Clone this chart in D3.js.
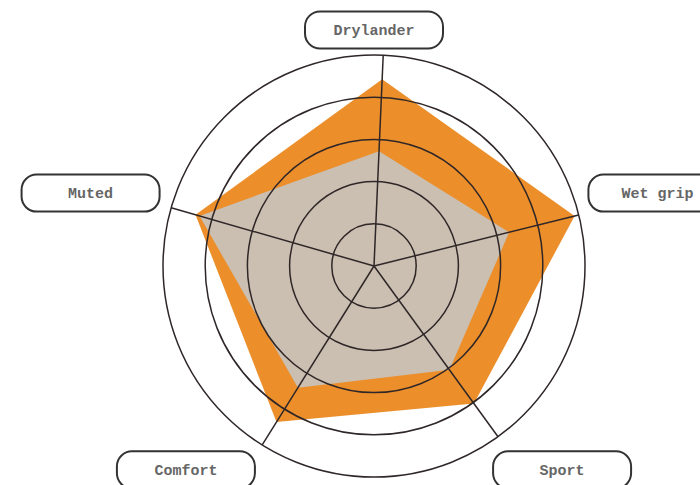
<!DOCTYPE html>
<html>
<head>
<meta charset="utf-8">
<script src="https://cdn.jsdelivr.net/npm/d3@7"></script>
<style>
  html, body { margin: 0; padding: 0; background: #fff; }
  svg { display: block; }
</style>
</head>
<body>
<div class="d3-graph radar"></div>
<script>
(function () {
    "use strict";

    // axis names, clockwise from the top
    var categories = ['Drylander', 'Wet grip', 'Sport', 'Comfort', 'Muted'];
    // axis directions in degrees, clockwise from straight up
    var axisAngles = [2.5, 76, 144, 212, 286];
    var outerValues = [4.43, 4.9, 4.03, 4.36, 4.4];
    var innerValues = [2.72, 3.3, 3.04, 3.4, 4.3];
    var ringTicks = [1, 2, 3, 4, 5];

    var config = {
        width: 700,
        height: 485,
        cx: 374,
        cy: 266,
        radius: 211,
        // label boxes sit on an ellipse, a bit further out below the centre
        labelUpper: { rx: 298, ry: 236 },
        labelLower: { rx: 320, ry: 252 },
        boxW: 138,
        boxH: 37
    };

    function drawRadar() {
        var svg = d3.select('.radar').html('').append('svg')
            .attr('width', config.width)
            .attr('height', config.height);

        var g = svg.append('g')
            .attr('transform', 'translate(' + config.cx + ',' + config.cy + ')');

        var r = d3.scaleLinear().domain([0, 5]).range([0, config.radius]);
        var angle = d3.scaleOrdinal()
            .domain(categories)
            .range(axisAngles.map(function (a) { return a * Math.PI / 180; }));
        var labelAngle = d3.scalePoint()
            .domain(categories)
            .range([0, 2 * Math.PI * (categories.length - 1) / categories.length]);

        var line = d3.lineRadial()
            .angle(function (d) { return angle(d.cat); })
            .radius(function (d) { return r(d.value); })
            .curve(d3.curveLinearClosed);

        function series(values) {
            return categories.map(function (c, i) {
                return { cat: c, value: values[i] };
            });
        }

        g.append('path')
            .datum(series(outerValues))
            .attr('d', line)
            .attr('fill', '#ec8f2b');

        g.append('path')
            .datum(series(innerValues))
            .attr('d', line)
            .attr('fill', '#cbbfb2');

        g.selectAll('circle.ring')
            .data(ringTicks)
            .enter()
            .append('circle')
            .attr('class', 'ring')
            .attr('r', function (d) { return r(d); })
            .attr('fill', 'none')
            .attr('stroke', '#2f2727')
            .attr('stroke-width', 1.5);

        g.selectAll('line.axis')
            .data(categories)
            .enter()
            .append('line')
            .attr('class', 'axis')
            .attr('x1', 0)
            .attr('y1', 0)
            .attr('x2', function (d) { return r(5) * Math.sin(angle(d)); })
            .attr('y2', function (d) { return -r(5) * Math.cos(angle(d)); })
            .attr('stroke', '#2f2727')
            .attr('stroke-width', 1.5);

        var labels = g.selectAll('g.label')
            .data(categories)
            .enter()
            .append('g')
            .attr('class', 'label')
            .attr('transform', function (d) {
                var a = labelAngle(d);
                var s = Math.sin(a), c = Math.cos(a);
                var e = c >= 0 ? config.labelUpper : config.labelLower;
                return 'translate(' + (e.rx * s) + ',' + (-e.ry * c) + ')';
            });

        labels.append('rect')
            .attr('x', -config.boxW / 2)
            .attr('y', -config.boxH / 2)
            .attr('width', config.boxW)
            .attr('height', config.boxH)
            .attr('rx', 15)
            .attr('ry', 15)
            .attr('fill', '#fff')
            .attr('stroke', '#333')
            .attr('stroke-width', 2);

        labels.append('text')
            .attr('text-anchor', 'middle')
            .attr('dy', '0.36em')
            .style('font-family', '"Liberation Mono", "DejaVu Sans Mono", monospace')
            .style('font-size', '15px')
            .style('font-weight', 'bold')
            .attr('fill', '#666')
            .text(function (d) { return d; });
    }

    drawRadar();
})();
</script>
</body>
</html>
